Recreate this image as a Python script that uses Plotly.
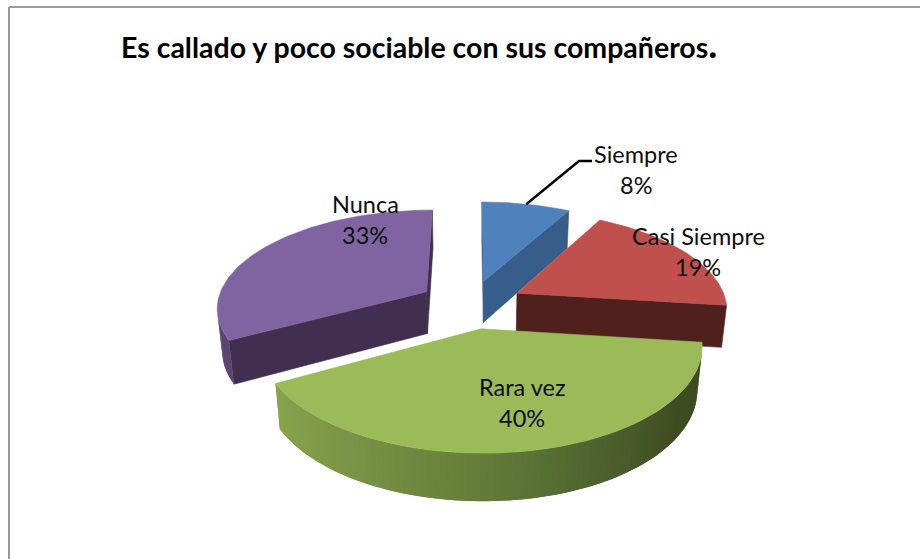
"""Exploded 3D-look pie drawn as projected polygons on a pixel-sized axis pair."""

import math

import plotly.graph_objects as go

# Data
categories = ["Siempre", "Casi Siempre", "Rara vez", "Nunca"]
percentages = [8, 19, 40, 33]
title_text = "Es callado y poco sociable con sus compañeros"

# Styles
TOP_COLORS = ["#4f81bd", "#c0504d", "#9bbb59", "#8064a2"]
CUT_COLORS = ["#375d8a", "#4f201c", "#3f4c22", "#422f50"]
WALL_STOPS = [
    ["#375d8a", "#375d8a"],
    ["#4f201c", "#4f201c"],
    ["#3f4c20", "#3f4c20", "#4f6430", "#66803a", "#7a9447", "#89a44c"],
    ["#5b4670", "#5b4670"],
]
LABEL_POS = [(636, 154), (698, 236), (522, 387), (365, 204)]
LINE_GAP = 31
DRAW_ORDER = [0, 1, 3, 2]

WIDTH, HEIGHT = 920, 559

# Projection of the pie, fitted to the picture
CX, CY = 471, 304
RX, RY = 210, 97.4
THICK = 43
EXPLODE = 0.25
PERSP_Y = 0.15
PERSP_Z = 0.02


def project(gx, gy, z):
    s = 1 / (1 - PERSP_Y * gy + PERSP_Z * z)
    return CX + RX * gx * s, CY + (RY * gy + THICK * z) * s


def polar(angle):
    return math.sin(angle), -math.cos(angle)


def hex_mix(c1, c2, t):
    a = [int(c1[i:i + 2], 16) for i in (1, 3, 5)]
    b = [int(c2[i:i + 2], 16) for i in (1, 3, 5)]
    return "#" + "".join(f"{round(p + (q - p) * t):02x}" for p, q in zip(a, b))


def stop_color(stops, t):
    pos = t * (len(stops) - 1)
    i = min(int(pos), len(stops) - 2)
    return hex_mix(stops[i], stops[i + 1], pos - i)


def facing(points):
    area = 0
    for (x0, y0), (x1, y1) in zip(points, points[1:] + points[:1]):
        area += x0 * y1 - x1 * y0
    return area < 0


def add_poly(fig, points, color, line_width=0.6):
    xs = [p[0] for p in points] + [points[0][0]]
    ys = [p[1] for p in points] + [points[0][1]]
    fig.add_trace(
        go.Scatter(
            x=xs,
            y=ys,
            mode="lines",
            fill="toself",
            fillcolor=color,
            line=dict(color=color, width=line_width),
            hoverinfo="skip",
            showlegend=False,
        )
    )


fig = go.Figure()

total = sum(percentages)
spans = []
start = 0.0
for value in percentages:
    end = start + value / total * 2 * math.pi
    spans.append((start, end))
    start = end

leader_start = None
for idx in DRAW_ORDER:
    a0, a1 = spans[idx]
    mx, my = polar((a0 + a1) / 2)
    ox, oy = EXPLODE * mx, EXPLODE * my

    def rim(angle, z):
        px, py = polar(angle)
        return project(ox + px, oy + py, z)

    apex_top = project(ox, oy, 0)
    apex_bot = project(ox, oy, 1)

    # cut faces, only those turned to the viewer
    for face in (
        [apex_top, rim(a0, 0), rim(a0, 1), apex_bot],
        [rim(a1, 0), apex_top, apex_bot, rim(a1, 1)],
    ):
        if facing(face):
            add_poly(fig, face, CUT_COLORS[idx])

    # outer wall in small steps, for the shading
    steps = max(4, int((a1 - a0) / math.radians(1.5)))
    for i in range(steps):
        b0 = a0 + (a1 - a0) * i / steps
        b1 = a0 + (a1 - a0) * (i + 1) / steps
        # a little overlap hides the seams between the steps
        b2 = min(a1, b1 + (b1 - b0))
        quad = [rim(b0, 0), rim(b2, 0), rim(b2, 1), rim(b0, 1)]
        if facing(quad):
            add_poly(fig, quad, stop_color(WALL_STOPS[idx], (i + 0.5) / steps), 0)

    # top face
    arc = [rim(a0 + (a1 - a0) * i / 80, 0) for i in range(81)]
    add_poly(fig, [apex_top] + arc, TOP_COLORS[idx])

    if idx == 0:
        leader_start = rim((a0 + a1) / 2, 0)

# leader line of the first label
fig.add_trace(
    go.Scatter(
        x=[leader_start[0], 579, 592],
        y=[leader_start[1], 161, 161],
        mode="lines",
        line=dict(color="#000000", width=2.4),
        hoverinfo="skip",
        showlegend=False,
    )
)

for name, value, (lx, ly) in zip(categories, percentages, LABEL_POS):
    for text, y in ((name, ly), (f"{value}%", ly + LINE_GAP)):
        fig.add_annotation(
            x=lx,
            y=y,
            text=text,
            showarrow=False,
            font=dict(family="Lato", size=23.5, color="#0d0d0d"),
            xanchor="center",
            yanchor="middle",
        )

# chart frame, it runs off the right and bottom of the picture
fig.add_shape(type="line", x0=9, x1=9, y0=7, y1=HEIGHT, line=dict(color="#9a9a9a", width=2))
fig.add_shape(type="line", x0=9, x1=WIDTH, y0=7, y1=7, line=dict(color="#9a9a9a", width=2))

fig.update_layout(
    title=dict(
        text=f'<b>{title_text}<span style="font-size:38px">.</span></b>',
        x=121 / WIDTH,
        xanchor="left",
        y=1 - 48 / HEIGHT,
        yanchor="middle",
        font=dict(family="Lato", size=28.5, color="#000000"),
    ),
    width=WIDTH,
    height=HEIGHT,
    margin=dict(l=0, r=0, t=0, b=0),
    paper_bgcolor="#ffffff",
    plot_bgcolor="#ffffff",
    showlegend=False,
    xaxis=dict(range=[0, WIDTH], visible=False),
    yaxis=dict(range=[HEIGHT, 0], visible=False),
)

# the page's default body margin would push the chart 8px off
fig.write_html(
    "out.html",
    config={"displayModeBar": False},
    post_script="document.body.style.margin='0';",
)
